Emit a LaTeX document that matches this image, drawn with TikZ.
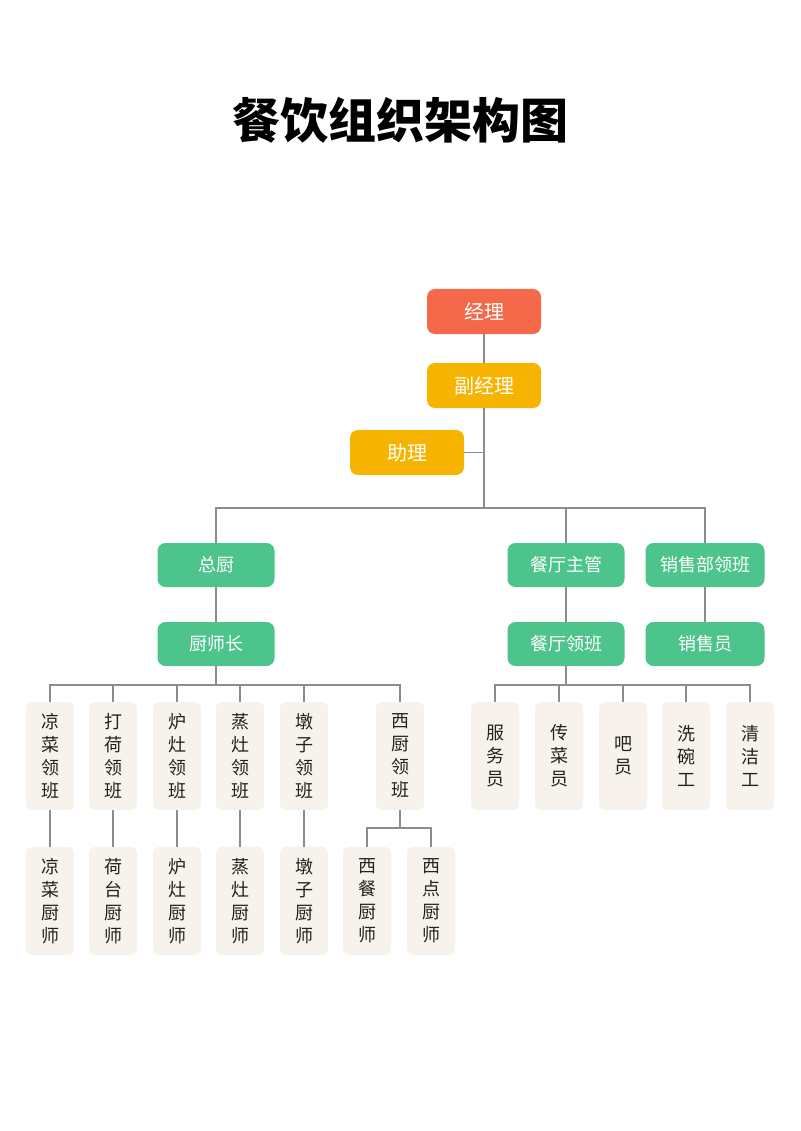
\documentclass[tikz,border=0pt]{standalone}
\usepackage{fontspec}
\setmainfont{Noto Sans CJK SC}
\definecolor{cred}{HTML}{F4694A}
\definecolor{camber}{HTML}{F6B300}
\definecolor{cgreen}{HTML}{4DC48C}
\definecolor{ccream}{HTML}{F7F3EC}
\definecolor{cline}{HTML}{8C8C8C}
\definecolor{ctext}{HTML}{222222}
\begin{document}
\begin{tikzpicture}[x=1pt,y=-1pt,
  box/.style={rounded corners=8pt, inner sep=0pt, text=white, minimum height=45pt, font=\fontsize{19}{23}\selectfont},
  topbox/.style={box, minimum width=114pt, font=\fontsize{20}{24}\selectfont},
  gbox/.style={box, fill=cgreen, minimum width=117pt, minimum height=44pt, font=\fontsize{18}{22}\selectfont},
  leaf/.style={rounded corners=6pt, fill=ccream, inner sep=0pt, minimum width=48pt, minimum height=108pt, text=ctext, align=center, font=\fontsize{18}{23}\selectfont},
  conn/.style={draw=cline, line width=1.4pt}]
\useasboundingbox (0,0) rectangle (800,1131);
\node[font=\fontsize{48}{56}\selectfont\bfseries] (title) at (400,120) {餐饮组织架构图};

\node[topbox, fill=cred] (jl) at (484,311.5) {经理};
\node[topbox, fill=camber] (fjl) at (484,385.5) {副经理};
\node[topbox, fill=camber] (zl) at (407,452.5) {助理};

\node[gbox] (zc) at (216,565) {总厨};
\node[gbox] (csz) at (216,644) {厨师长};
\node[gbox] (ct) at (566,565) {餐厅主管};
\node[gbox] (ctl) at (566,644) {餐厅领班};
\node[gbox, minimum width=119pt] (xs) at (705,565) {销售部领班};
\node[gbox, minimum width=119pt] (xsy) at (705,644) {销售员};

\node[leaf] (l1) at (50,756) {凉\\菜\\领\\班};
\node[leaf] (l2) at (113,756) {打\\荷\\领\\班};
\node[leaf] (l3) at (177,756) {炉\\灶\\领\\班};
\node[leaf] (l4) at (240,756) {蒸\\灶\\领\\班};
\node[leaf] (l5) at (304,756) {墩\\子\\领\\班};
\node[leaf] (l6) at (400,756) {西\\厨\\领\\班};

\node[leaf] (m1) at (50,901) {凉\\菜\\厨\\师};
\node[leaf] (m2) at (113,901) {荷\\台\\厨\\师};
\node[leaf] (m3) at (177,901) {炉\\灶\\厨\\师};
\node[leaf] (m4) at (240,901) {蒸\\灶\\厨\\师};
\node[leaf] (m5) at (304,901) {墩\\子\\厨\\师};
\node[leaf] (m6) at (367,901) {西\\餐\\厨\\师};
\node[leaf] (m7) at (431,901) {西\\点\\厨\\师};

\node[leaf] (r1) at (495,756) {服\\务\\员};
\node[leaf] (r2) at (559,756) {传\\菜\\员};
\node[leaf] (r3) at (623,756) {吧\\员};
\node[leaf] (r4) at (686,756) {洗\\碗\\工};
\node[leaf] (r5) at (750,756) {清\\洁\\工};

\coordinate (b0) at (484,508);
\coordinate (cb) at (216,685);
\coordinate (rb) at (566,685);
\coordinate (wb) at (400,828);

\begin{scope}[on background layer/.try]
\end{scope}
\path[conn] (jl) -- (fjl);
\path[conn] (fjl) -- (b0);
\path[conn] (zl.east) -- (zl.east -| fjl);
\path[conn] (zc.north) |- (b0) -| (xs.north);
\path[conn] (ct.north) -- (ct.north |- b0);
\path[conn] (zc) -- (csz);
\path[conn] (ct) -- (ctl);
\path[conn] (xs) -- (xsy);

\path[conn] (csz) -- (cb);
\path[conn] (l1.north) |- (cb) -| (l6.north);
\foreach \n in {l2,l3,l4,l5} \path[conn] (\n.north) -- (\n.north |- cb);
\path[conn] (l1) -- (m1);
\path[conn] (l2) -- (m2);
\path[conn] (l3) -- (m3);
\path[conn] (l4) -- (m4);
\path[conn] (l5) -- (m5);
\path[conn] (l6) -- (wb);
\path[conn] (m6.north) |- (wb) -| (m7.north);

\path[conn] (ctl) -- (rb);
\path[conn] (r1.north) |- (rb) -| (r5.north);
\foreach \n in {r2,r3,r4} \path[conn] (\n.north) -- (\n.north |- rb);
\end{tikzpicture}
\end{document}
